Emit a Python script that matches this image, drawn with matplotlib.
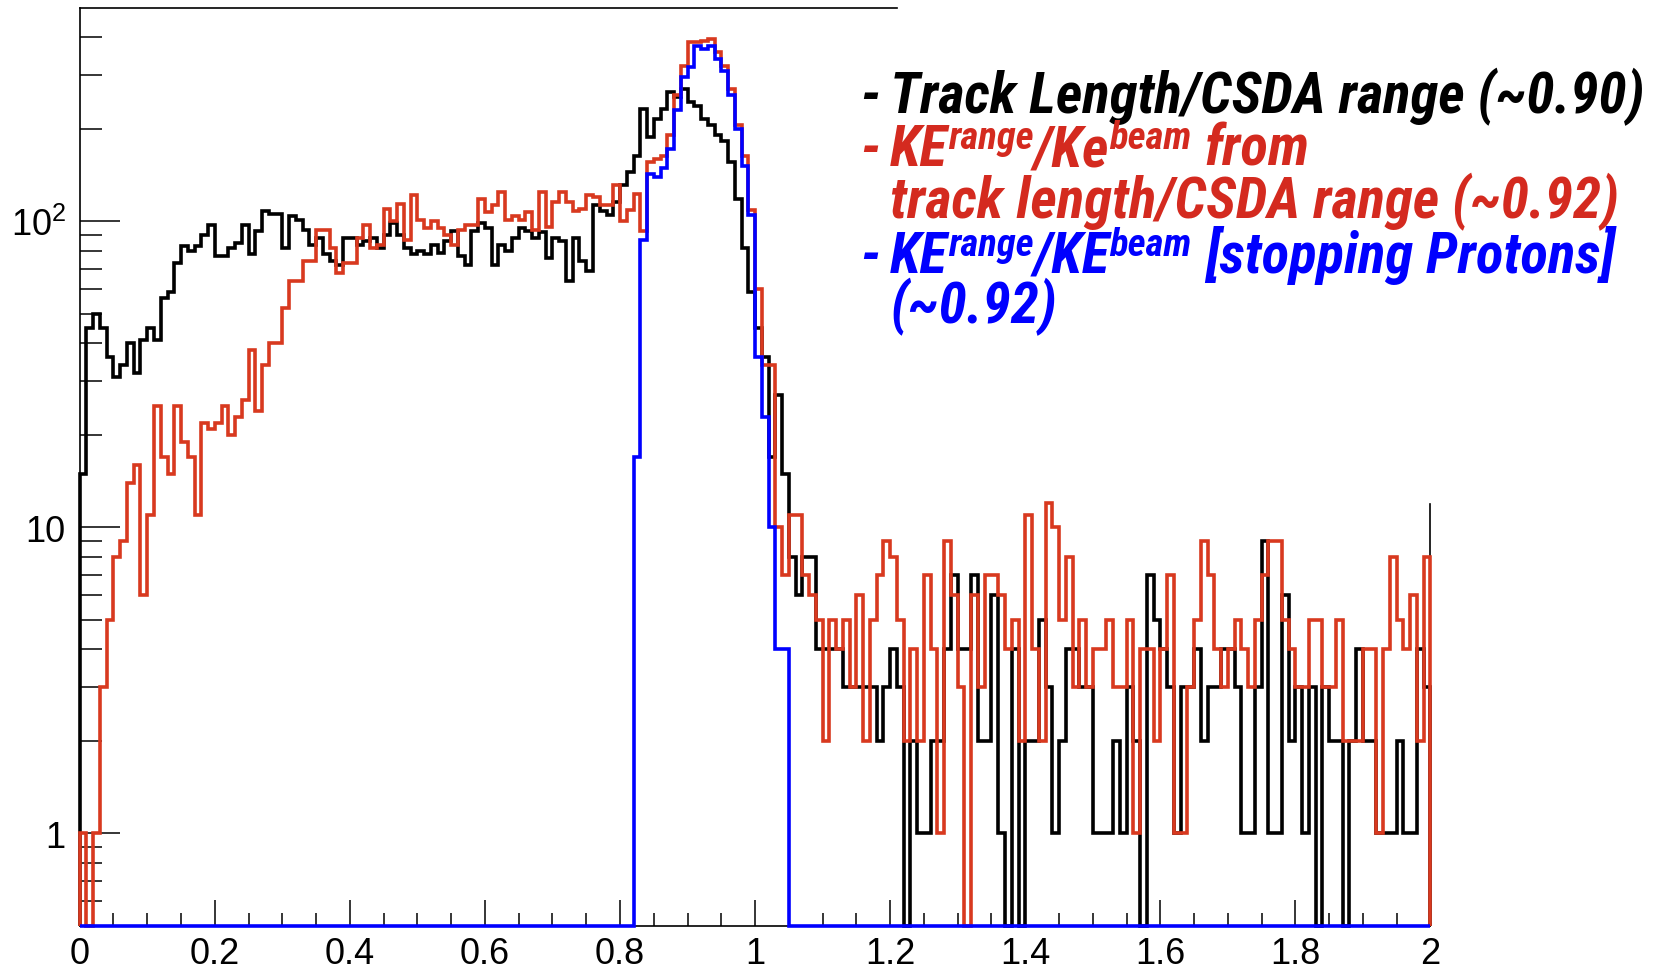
import numpy as np
import matplotlib
matplotlib.use("Agg")
import matplotlib.pyplot as plt
from matplotlib import font_manager as fm
from matplotlib.ticker import FixedLocator, NullFormatter

W, H, DPI = 1666, 970, 100

# 200 bins of width 0.01 between 0 and 2
bin_edges = np.round(np.linspace(0.0, 2.0, 201), 4)

# Track Length / CSDA range
track_length_ratio = [
    15, 45, 50, 45, 36, 31, 34, 40, 32, 41,
    45, 41, 56, 59, 73, 83, 80, 83, 90, 97,
    77, 77, 82, 85, 97, 78, 93, 108, 106, 106,
    82, 104, 101, 94, 84, 88, 78, 74, 72, 88,
    88, 84, 86, 88, 82, 90, 99, 90, 82, 78,
    80, 78, 84, 79, 86, 93, 77, 72, 93, 99,
    95, 72, 84, 80, 88, 95, 93, 88, 92, 76,
    88, 86, 64, 88, 74, 69, 113, 108, 105, 116,
    131, 145, 163, 233, 189, 216, 233, 264, 255, 270,
    245, 239, 216, 206, 191, 183, 156, 118, 82, 59,
    45, 36, 17, 27, 15, 8, 6, 8, 8, 4,
    4, 4, 4, 3, 3, 3, 3, 3, 2, 3,
    4, 3, 0, 2, 1, 1, 2, 2, 4, 7,
    4, 4, 7, 2, 2, 6, 1, 0, 4, 0,
    2, 2, 5, 3, 1, 2, 4, 4, 3, 3,
    1, 1, 1, 2, 1, 3, 2, 0, 7, 5,
    4, 3, 1, 3, 3, 4, 2, 3, 3, 4,
    4, 3, 1, 1, 3, 9, 1, 1, 6, 2,
    3, 1, 3, 0, 3, 2, 2, 0, 2, 4,
    2, 2, 1, 1, 1, 2, 1, 1, 4, 3,
]

# KE(range)/KE(beam) from track length / CSDA range
ke_ratio_from_length = [
    1, 0, 1, 3, 5, 8, 9, 14, 16, 6,
    11, 25, 17, 15, 25, 19, 17, 11, 22, 21,
    22, 25, 20, 23, 26, 38, 24, 34, 40, 40,
    52, 64, 64, 74, 74, 94, 94, 82, 68, 73,
    73, 88, 97, 82, 84, 110, 100, 114, 87, 122,
    101, 95, 100, 95, 90, 84, 94, 97, 97, 118,
    107, 113, 125, 101, 104, 101, 107, 94, 125, 96,
    116, 125, 116, 108, 110, 122, 120, 113, 113, 131,
    100, 109, 123, 93, 156, 160, 163, 191, 258, 323,
    385, 385, 390, 394, 357, 323, 271, 206, 163, 109,
    60, 34, 34, 10, 7, 11, 11, 7, 6, 5,
    2, 5, 4, 5, 3, 6, 2, 5, 7, 9,
    8, 5, 2, 4, 2, 7, 4, 1, 9, 6,
    3, 0, 6, 3, 7, 7, 6, 4, 5, 2,
    11, 4, 2, 12, 10, 5, 8, 3, 5, 3,
    4, 4, 5, 3, 3, 5, 1, 4, 4, 2,
    4, 7, 1, 1, 3, 5, 9, 7, 4, 3,
    4, 5, 4, 3, 5, 7, 9, 9, 5, 4,
    3, 3, 5, 5, 3, 3, 5, 2, 2, 2,
    4, 4, 1, 4, 8, 5, 4, 6, 2, 8,
]

# KE(range)/KE(beam) for stopping protons
ke_ratio_stopping = [
    0, 0, 0, 0, 0, 0, 0, 0, 0, 0,
    0, 0, 0, 0, 0, 0, 0, 0, 0, 0,
    0, 0, 0, 0, 0, 0, 0, 0, 0, 0,
    0, 0, 0, 0, 0, 0, 0, 0, 0, 0,
    0, 0, 0, 0, 0, 0, 0, 0, 0, 0,
    0, 0, 0, 0, 0, 0, 0, 0, 0, 0,
    0, 0, 0, 0, 0, 0, 0, 0, 0, 0,
    0, 0, 0, 0, 0, 0, 0, 0, 0, 0,
    0, 0, 17, 87, 143, 140, 150, 173, 231, 296,
    320, 375, 366, 375, 340, 311, 258, 201, 152, 105,
    36, 23, 10, 4, 4, 0, 0, 0, 0, 0,
    0, 0, 0, 0, 0, 0, 0, 0, 0, 0,
    0, 0, 0, 0, 0, 0, 0, 0, 0, 0,
    0, 0, 0, 0, 0, 0, 0, 0, 0, 0,
    0, 0, 0, 0, 0, 0, 0, 0, 0, 0,
    0, 0, 0, 0, 0, 0, 0, 0, 0, 0,
    0, 0, 0, 0, 0, 0, 0, 0, 0, 0,
    0, 0, 0, 0, 0, 0, 0, 0, 0, 0,
    0, 0, 0, 0, 0, 0, 0, 0, 0, 0,
    0, 0, 0, 0, 0, 0, 0, 0, 0, 0,
]

x_major = [0.0, 0.2, 0.4, 0.6, 0.8, 1.0, 1.2, 1.4, 1.6, 1.8, 2.0]
x_labels = ["0", "0.2", "0.4", "0.6", "0.8", "1", "1.2", "1.4", "1.6", "1.8", "2"]
y_major = [1, 10, 100]
y_labels = ["1", "10", r"$\mathregular{10^{2}}$"]
y_minor = [0.6, 0.7, 0.8, 0.9, 2, 3, 4, 5, 6, 7, 8, 9,
           20, 30, 40, 50, 60, 70, 80, 90, 200, 300, 400]

BLACK = "#000000"
RED = "#d8391f"
BLUE = "#0000ff"
LEG_RED = "#d42a1f"

Y_MIN, Y_MAX = 0.5, 500

avail = {f.name for f in fm.fontManager.ttflist}
tick_family = [f for f in ["Liberation Sans", "DejaVu Sans"] if f in avail] or ["DejaVu Sans"]
legend_family = next((f for f in ["Liberation Sans Narrow", "Roboto Condensed",
                                  "Liberation Sans", "DejaVu Sans"] if f in avail),
                     "DejaVu Sans")
plt.rcParams["font.family"] = tick_family

fig = plt.figure(figsize=(W / DPI, H / DPI), dpi=DPI)
fig.patch.set_facecolor("white")

left_px, right_px, top_px, bottom_px = 79.7, 1430.5, 8.5, 926.5
ax = fig.add_axes([left_px / W, (H - bottom_px) / H,
                   (right_px - left_px) / W, (bottom_px - top_px) / H])
ax.set_yscale("log")
ax.set_xlim(0, 2)
ax.set_ylim(Y_MIN, Y_MAX)


def draw_hist(values, color, z):
    v = np.maximum(np.asarray(values, dtype=float), Y_MIN)
    ax.stairs(v, bin_edges, baseline=Y_MIN, color=color, lw=2.6,
              zorder=z, clip_on=False)


draw_hist(track_length_ratio, BLACK, 3)
draw_hist(ke_ratio_from_length, RED, 4)
draw_hist(ke_ratio_stopping, BLUE, 5)

# frame: the upper right part is left open for the annotation block
for s in ax.spines.values():
    s.set_linewidth(1.2)
ax.spines["top"].set_bounds(0, 1.21)
ax.spines["right"].set_bounds(Y_MIN, 11.9)

ax.xaxis.set_major_locator(FixedLocator(x_major))
ax.xaxis.set_minor_locator(FixedLocator(np.round(np.arange(0, 2.0001, 0.05), 3)))
ax.set_xticklabels(x_labels)
ax.yaxis.set_major_locator(FixedLocator(y_major))
ax.yaxis.set_minor_locator(FixedLocator(y_minor))
ax.set_yticklabels(y_labels)
ax.yaxis.set_minor_formatter(NullFormatter())

ax.tick_params(which="both", direction="in", top=False, right=False, width=1.1,
               labelsize=26, colors="black")
ax.tick_params(axis="x", which="major", length=18.5, pad=7.5)
ax.tick_params(axis="x", which="minor", length=9.5)
ax.tick_params(axis="y", which="major", length=29, pad=10)
ax.tick_params(axis="y", which="minor", length=16)

# annotation block
renderer = fig.canvas.get_renderer()
font_kw = dict(family=legend_family, weight="bold", style="italic")


def text_width(s, size):
    t = fig.text(0, 0, s, fontsize=size, **font_kw)
    w = t.get_window_extent(renderer=renderer).width
    t.remove()
    return w


ref_size = 40.0
main_size = ref_size * 753.0 / text_width("Track Length/CSDA range (~0.90)", ref_size)
gap = text_width("n n", main_size) - text_width("nn", main_size)
SUP = 0.68
RISE = 17.0  # pixels

dash_x, text_x = 860.0, 890.0

legend_lines = [
    (113, BLACK, True, [("Track Length/CSDA range (~0.90)", 1.0, 0.0)]),
    (166, LEG_RED, True, [("KE", 1.0, 0.0), ("range", SUP, RISE), ("/Ke", 1.0, 0.0),
                          ("beam", SUP, RISE), (None, 0, 0), ("from", 1.0, 0.0)]),
    (218, LEG_RED, False, [("track length/CSDA range (~0.92)", 1.0, 0.0)]),
    (273, BLUE, True, [("KE", 1.0, 0.0), ("range", SUP, RISE), ("/KE", 1.0, 0.0),
                       ("beam", SUP, RISE), (None, 0, 0), ("[stopping Protons]", 1.0, 0.0)]),
    (323, BLUE, False, [("(~0.92)", 1.0, 0.0)]),
]

for base_y, color, dash, pieces in legend_lines:
    if dash:
        fig.text(dash_x / W, 1 - base_y / H, "-", color=color, fontsize=main_size,
                 ha="left", va="baseline", **font_kw)
    x = text_x
    for s, scale, rise in pieces:
        if s is None:
            x += gap
            continue
        t = fig.text(x / W, 1 - (base_y - rise) / H, s, color=color,
                     fontsize=main_size * scale, ha="left", va="baseline", **font_kw)
        x += t.get_window_extent(renderer=renderer).width

fig.savefig("out.png", dpi=DPI, facecolor="white")
